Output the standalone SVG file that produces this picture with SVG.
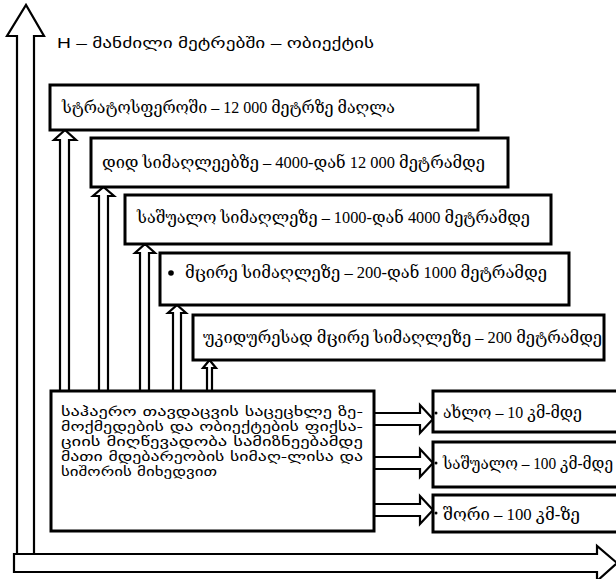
<svg xmlns="http://www.w3.org/2000/svg" width="616" height="579" viewBox="0 0 616 579">
<style>
.box{fill:#fff;stroke:#000;stroke-width:3}
.arr{fill:#fff;stroke:#000;stroke-width:2.2;stroke-linejoin:miter}
.t{font-family:"Liberation Serif","DejaVu Serif",serif;font-size:16px;fill:#000}
.ts{font-family:"DejaVu Sans",sans-serif;font-size:12px;fill:#000}
.th{font-family:"Liberation Sans","DejaVu Sans",sans-serif;font-size:15px;fill:#000}
</style>
<rect width="616" height="579" fill="#fff"/>
<g id="connectors">
  <polygon class="arr" points="17,556 17,36 7,36 26,5 44,36 34,36 34,556"/>
  <polygon class="arr" points="14,554 597,554 597,546 617,563 597,581 597,572 14,572"/>
  <polygon class="arr" points="60,391 60,140 54,140 65,130 76,140 69,140 69,391"/>
  <polygon class="arr" points="99,391 99,196 93,196 103.5,187 114,196 108,196 108,391"/>
  <polygon class="arr" points="140,391 140,253 135,253 145,244 155,253 149,253 149,391"/>
  <polygon class="arr" points="173,391 173,313 168,313 177,305 186,313 181,313 181,391"/>
  <polygon class="arr" points="207,391 207,368 203,368 209.5,360 216,368 212,368 212,391"/>
  <polygon class="arr" points="374,413 420,413 420,405 433,419 420,433 420,425 374,425"/>
  <polygon class="arr" points="374,457 420,457 420,449 433,463 420,477 420,469 374,469"/>
  <polygon class="arr" points="374,504 420,504 420,496 433,510 420,524 420,516 374,516"/>
</g>
<g id="axis-label">
  <text class="th" x="57" y="48" textLength="317" lengthAdjust="spacingAndGlyphs">H –  მანძილი მეტრებში – ობიექტის</text>
</g>
<g id="n-stratosphere">
  <rect class="box" x="50" y="85" width="428" height="45"/>
  <text class="t" x="62" y="113" textLength="333" lengthAdjust="spacingAndGlyphs">სტრატოსფეროში – 12 000 მეტრზე მაღლა</text>
</g>
<g id="n-high">
  <rect class="box" x="91" y="138" width="417" height="49"/>
  <text class="t" x="102" y="168" textLength="383" lengthAdjust="spacingAndGlyphs">დიდ სიმაღლეებზე – 4000-დან 12 000 მეტრამდე</text>
</g>
<g id="n-medium">
  <rect class="box" x="125" y="195" width="426" height="49"/>
  <text class="t" x="137" y="223" textLength="393" lengthAdjust="spacingAndGlyphs">საშუალო სიმაღლეზე – 1000-დან 4000 მეტრამდე</text>
</g>
<g id="n-low">
  <rect class="box" x="160" y="253" width="409" height="52"/>
  <circle cx="171" cy="273" r="2.8" fill="#000"/>
  <text class="t" x="185" y="278" textLength="362" lengthAdjust="spacingAndGlyphs">მცირე სიმაღლეზე – 200-დან 1000 მეტრამდე</text>
</g>
<g id="n-verylow">
  <rect class="box" x="193" y="315" width="411" height="45"/>
  <text class="t" x="203" y="343" textLength="399" lengthAdjust="spacingAndGlyphs">უკიდურესად მცირე სიმაღლეზე – 200 მეტრამდე</text>
</g>
<g id="n-main">
  <rect class="box" x="51" y="391" width="323" height="140"/>
  <text class="ts" x="61" y="416" textLength="302" lengthAdjust="spacingAndGlyphs">საჰაერო თავდაცვის საცეცხლე ზე-</text>
  <text class="ts" x="61" y="431" textLength="302" lengthAdjust="spacingAndGlyphs">მოქმედების და ობიექტების ფიქსა-</text>
  <text class="ts" x="61" y="446" textLength="302" lengthAdjust="spacingAndGlyphs">ციის მიღწევადობა სამიზნეებამდე</text>
  <text class="ts" x="61" y="461" textLength="302" lengthAdjust="spacingAndGlyphs">მათი მდებარეობის სიმაღ-ლისა და</text>
  <text class="ts" x="61" y="476" textLength="156" lengthAdjust="spacingAndGlyphs">სიშორის მიხედვით</text>
</g>
<g id="n-near">
  <rect class="box" x="433" y="391" width="200" height="41"/>
  <circle cx="436" cy="413" r="1.5" fill="#000"/>
  <text class="t" x="443" y="418" textLength="139" lengthAdjust="spacingAndGlyphs">ახლო – 10 კმ-მდე</text>
</g>
<g id="n-mid">
  <rect class="box" x="433" y="442" width="200" height="45"/>
  <circle cx="436" cy="463" r="1.5" fill="#000"/>
  <text class="t" x="443" y="469" textLength="170" lengthAdjust="spacingAndGlyphs">საშუალო – 100 კმ-მდე</text>
</g>
<g id="n-far">
  <rect class="box" x="433" y="495" width="200" height="37"/>
  <circle cx="436" cy="513" r="1.5" fill="#000"/>
  <text class="t" x="443" y="520" textLength="137" lengthAdjust="spacingAndGlyphs">შორი – 100 კმ-ზე</text>
</g>
</svg>
